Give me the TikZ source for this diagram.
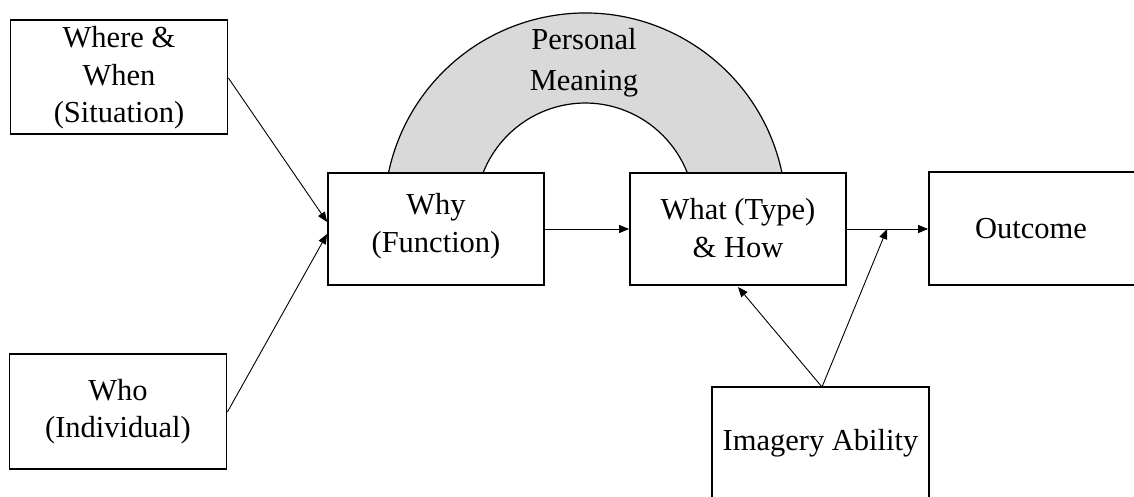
\documentclass[tikz,border=0pt]{standalone}
\usepackage{fontspec}
\setmainfont{Liberation Serif}
\usetikzlibrary{arrows.meta}
\definecolor{ringgray}{HTML}{D9D9D9}
\tikzset{
  box/.style={draw, line width=1.8pt, fill=white, inner sep=0pt},
  conn/.style={line width=0.9pt, -{Triangle[length=10pt,width=8pt]}},
  label/.style={align=center, inner sep=0pt, font=\fontsize{30.5}{37.5}\selectfont},
  ring/.style={line width=1.2pt}
}
\begin{document}
\begin{tikzpicture}[x=1pt,y=1pt]
\useasboundingbox (0,0) rectangle (1134,496);
% half ring behind the two middle boxes
\fill[ringgray]
  (782,323) arc[start angle=11.77, end angle=168.23, radius=201]
  -- (483,323)
  arc[start angle=158.3, end angle=21.7, x radius=110, y radius=111]
  -- cycle;
\draw[ring] (782,323) arc[start angle=11.77, end angle=168.23, radius=201];
\draw[ring] (483,323) arc[start angle=158.3, end angle=21.7, x radius=110, y radius=111];
\node[label, font=\fontsize{30.5}{41}\selectfont] (pm) at (584,433) {Personal\\Meaning};
% boxes
\node[box, minimum width=217pt, minimum height=114pt] (where) at (119,419) {};
\node[label] at (119,418) {Where \&\\When\\(Situation)};
\node[box, minimum width=217pt, minimum height=115pt] (who) at (118,84.5) {};
\node[label] at (118,84.5) {Who\\(Individual)};
\node[box, minimum width=216pt, minimum height=112pt] (why) at (436,267) {};
\node[label] at (436,270) {Why\\(Function)};
\node[box, minimum width=216pt, minimum height=112pt] (what) at (738,267) {};
\node[label] at (738,268) {What (Type)\\\& How};
\node[box, minimum width=212pt, minimum height=113pt] (outcome) at (1035,267.5) {};
\node[label] at (1031,267) {Outcome};
\node[box, minimum width=217pt, minimum height=113pt] (imagery) at (820.5,52.5) {};
\node[label] at (820.5,53) {Imagery Ability};
% connectors
\coordinate (wwout) at (where.east |- 0,418);
\coordinate (wwin) at (why.west |- 0,274);
\coordinate (whoout) at (who.east |- 0,84);
\coordinate (whoin) at (why.west |- 0,262);
\coordinate (imtop) at (822,109);
\coordinate (whatin) at (738,209);
\coordinate (tap) at (887,267);
\draw[conn] (wwout) -- (wwin);
\draw[conn] (whoout) -- (whoin);
\draw[conn] (why.east) -- (what.west);
\draw[conn] (what.east) -- (outcome.west |- what.east);
\draw[conn] (imtop) -- (whatin);
\draw[conn] (imtop) -- (tap);
\end{tikzpicture}
\end{document}
